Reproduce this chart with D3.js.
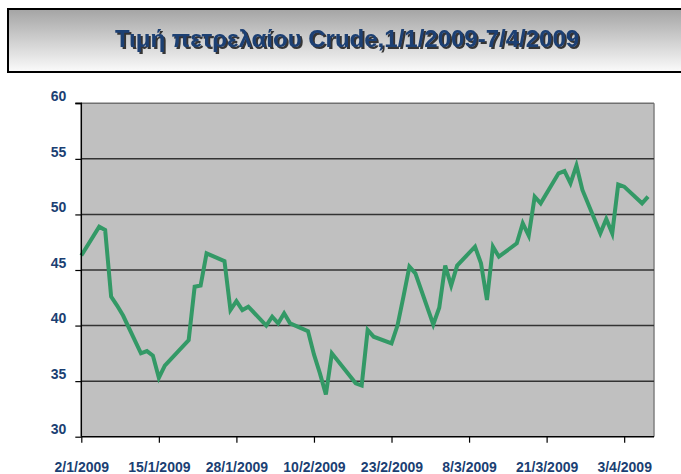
<!DOCTYPE html>
<html>
<head>
<meta charset="utf-8">
<script src="https://cdn.jsdelivr.net/npm/d3@7"></script>
<style>
html,body{margin:0;padding:0;background:#fff;}
svg{display:block;}
</style>
</head>
<body>
<svg id="chart" width="681" height="474"></svg>
<script>
const title = "Τιμή πετρελαίου Crude,1/1/2009-7/4/2009";
const dates = ["2/1/2009","5/1/2009","6/1/2009","7/1/2009","8/1/2009","9/1/2009","12/1/2009","13/1/2009","14/1/2009","15/1/2009","16/1/2009","20/1/2009","21/1/2009","22/1/2009","23/1/2009","26/1/2009","27/1/2009","28/1/2009","29/1/2009","30/1/2009","2/2/2009","3/2/2009","4/2/2009","5/2/2009","6/2/2009","9/2/2009","10/2/2009","11/2/2009","12/2/2009","13/2/2009","17/2/2009","18/2/2009","19/2/2009","20/2/2009","23/2/2009","24/2/2009","25/2/2009","26/2/2009","27/2/2009","2/3/2009","3/3/2009","4/3/2009","5/3/2009","6/3/2009","9/3/2009","10/3/2009","11/3/2009","12/3/2009","13/3/2009","16/3/2009","17/3/2009","18/3/2009","19/3/2009","20/3/2009","23/3/2009","24/3/2009","25/3/2009","26/3/2009","27/3/2009","30/3/2009","31/3/2009","1/4/2009","2/4/2009","3/4/2009","6/4/2009","7/4/2009"];
const prices = [46.3,48.9,48.6,42.6,41.8,40.9,37.5,37.7,37.3,35.3,36.4,38.7,43.5,43.6,46.5,45.8,41.4,42.2,41.4,41.7,40.0,40.8,40.2,41.1,40.2,39.5,37.4,35.7,33.8,37.5,34.8,34.6,39.6,39.0,38.4,40.0,42.6,45.3,44.7,40.1,41.6,45.4,43.6,45.4,47.1,45.6,42.3,47.1,46.2,47.4,49.2,48.1,51.6,51.0,53.7,53.9,52.8,54.4,52.2,48.3,49.6,48.3,52.7,52.5,51.0,51.6];
const xTickLabels = ["2/1/2009","15/1/2009","28/1/2009","10/2/2009","23/2/2009","8/3/2009","21/3/2009","3/4/2009"];
const yTicks = [30,35,40,45,50,55,60];
const xDomainLabels = ["2/1/2009","8/4/2009"];

const parse = d3.timeParse("%d/%m/%Y");
const fmt = d3.timeFormat("%-d/%-m/%Y");
const data = dates.map((d,i)=>({date:parse(d), v:prices[i]}));

const svg = d3.select("#chart");
const L = 81.3, R = 654, T = 103.3, B = 436.7;
const navy = "#1B3F73";
const font = "'Liberation Sans Narrow','Arial Narrow','Liberation Sans',Arial,sans-serif";

// title box
const defs = svg.append("defs");
const g = defs.append("linearGradient").attr("id","tg").attr("x1",0).attr("y1",0).attr("x2",0).attr("y2",1);
g.append("stop").attr("offset","0%").attr("stop-color","#a4a4a4");
g.append("stop").attr("offset","100%").attr("stop-color","#fbfbfb");
const f = defs.append("filter").attr("id","sh").attr("x","-5%").attr("y","-20%").attr("width","110%").attr("height","140%");
f.append("feDropShadow").attr("dx",2).attr("dy",2).attr("stdDeviation",0.4)
  .attr("flood-color","#222").attr("flood-opacity",0.9);
svg.append("rect").attr("x",8).attr("y",9).attr("width",690).attr("height",63)
  .attr("fill","url(#tg)").attr("stroke","#000").attr("stroke-width",2);
svg.append("text").attr("x",347).attr("y",47).attr("text-anchor","middle")
  .attr("font-family",font).attr("font-weight","bold").attr("font-size",24)
  .attr("fill",navy).attr("filter","url(#sh)").text(title);

const x = d3.scaleTime().domain(xDomainLabels.map(parse)).range([L,R]);
const y = d3.scaleLinear().domain([30,60]).range([B,T]);

// plot area
svg.append("rect").attr("x",L).attr("y",T).attr("width",R-L).attr("height",B-T).attr("fill","#C0C0C0");
svg.append("line").attr("x1",R).attr("x2",R).attr("y1",T).attr("y2",B).attr("stroke","#808080").attr("stroke-width",1.5);

// gridlines
svg.append("g").selectAll("line").data(yTicks.filter(t=>t>30)).join("line")
  .attr("x1",L).attr("x2",R).attr("y1",d=>y(d)).attr("y2",d=>y(d))
  .attr("stroke",d=>d===60?"#707070":"#333").attr("stroke-width",1.5);

// line
svg.append("path").datum(data)
  .attr("d",d3.line().x(d=>x(d.date)).y(d=>y(d.v)))
  .attr("fill","none").attr("stroke","#339966").attr("stroke-width",4).attr("stroke-linejoin","miter");

// y axis
const yAxis = d3.axisLeft(y).tickValues(yTicks).tickSize(6).tickFormat(d3.format("d"));
const ya = svg.append("g").attr("transform",`translate(${L},0)`).call(yAxis);
ya.select(".domain").attr("stroke","#000").attr("stroke-width",1.5).attr("d",`M-6,${T}H0V${B}`);
ya.selectAll(".tick line").attr("stroke","#000").attr("stroke-width",1.2);
ya.selectAll(".tick text").attr("x",-15).attr("dy","-0.2em")
  .attr("font-family",font).attr("font-weight","bold").attr("font-size",14).attr("fill",navy);

// x axis
const xAxis = d3.axisBottom(x).tickValues(xTickLabels.map(parse)).tickSize(6).tickFormat(fmt);
const xa = svg.append("g").attr("transform",`translate(0,${B})`).call(xAxis);
xa.select(".domain").attr("stroke","#000").attr("stroke-width",1.5).attr("d",`M${L},0H${R}`);
xa.selectAll(".tick line").attr("stroke","#000").attr("stroke-width",1.2);
xa.selectAll(".tick text").attr("y",25)
  .attr("font-family",font).attr("font-weight","bold").attr("font-size",14).attr("fill",navy);
svg.selectAll(".tick text").attr("font-family",font);
</script>
</body>
</html>
